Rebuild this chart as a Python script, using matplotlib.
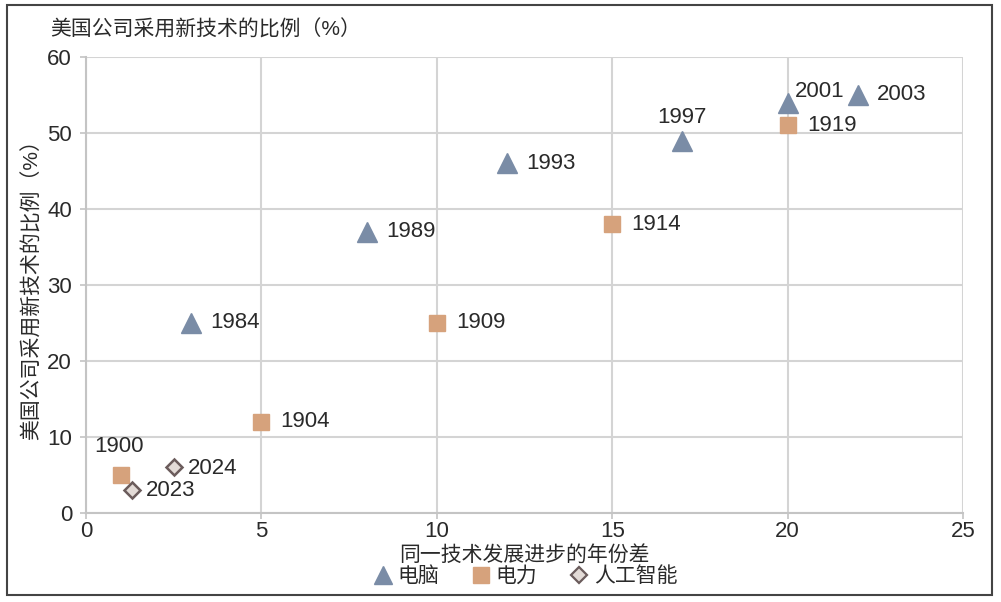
import matplotlib
matplotlib.use("Agg")
import matplotlib.pyplot as plt
from matplotlib.patches import Rectangle
from matplotlib.lines import Line2D

plt.rcParams['font.family'] = ['Liberation Sans', 'Noto Sans CJK SC', 'DejaVu Sans']

pc_x = [3, 8, 12, 17, 20, 22]
pc_y = [25, 37, 46, 49, 54, 55]
pc_lab = ["1984", "1989", "1993", "1997", "2001", "2003"]

el_x = [1, 5, 10, 15, 20]
el_y = [5, 12, 25, 38, 51]
el_lab = ["1900", "1904", "1909", "1914", "1919"]

ai_x = [1.3, 2.5]
ai_y = [3, 6]
ai_lab = ["2023", "2024"]

series_names = ["电脑", "电力", "人工智能"]

c_pc = "#7a8ca6"
c_el = "#d6a27c"
c_ai_face = "#e3dbd7"
c_ai_edge = "#6b5c5c"
grid_c = "#d4d4d4"
txt_c = "#2a2a2a"

fig = plt.figure(figsize=(10.01, 6.02), dpi=100)
ax = fig.add_axes([86/1001, 1-513/602, (963-86)/1001, (513-57)/602])

ax.set_xlim(0, 25)
ax.set_ylim(0, 60)
ax.set_xticks([0, 5, 10, 15, 20, 25])
ax.set_yticks([0, 10, 20, 30, 40, 50, 60])
ax.grid(True, color=grid_c, lw=1.5)
ax.set_axisbelow(True)
for s in ["top", "right"]:
    ax.spines[s].set_visible(False)
for s in ["left", "bottom"]:
    ax.spines[s].set_color("#c4c4c4")
    ax.spines[s].set_linewidth(1.5)
ax.tick_params(axis='both', colors="#c4c4c4", labelcolor=txt_c, labelsize=16, length=4, width=1.2)
ax.tick_params(axis='y', pad=6)
ax.tick_params(axis='x', pad=2)

ax.plot(pc_x, pc_y, ls='none', marker='^', ms=15, color=c_pc, mec=c_pc, zorder=3)
ax.plot(el_x, el_y, ls='none', marker='s', ms=12, color=c_el, mec=c_el, zorder=3)
ax.plot(ai_x, ai_y, ls='none', marker='D', ms=8.5, mfc=c_ai_face, mec=c_ai_edge, mew=1.8, zorder=3)

fs = 16
def lab(x, y, t, dx=0.55, dy=0.0, ha='left'):
    ax.text(x + dx, y + dy, t, fontsize=fs, color=txt_c, ha=ha, va='center', zorder=4)

for x, y, t in zip(pc_x, pc_y, pc_lab):
    if t == "1997":
        lab(x, y, t, dx=0, dy=3.0, ha='center')
    elif t == "2001":
        lab(x, y, t, dx=0.2, dy=1.5)
    else:
        lab(x, y, t)
for x, y, t in zip(el_x, el_y, el_lab):
    if t == "1900":
        lab(x, y, t, dx=-0.05, dy=3.8, ha='center')
    else:
        lab(x, y, t)
for x, y, t in zip(ai_x, ai_y, ai_lab):
    lab(x, y, t, dx=0.4, dy=-0.1)

fig.text(50/1001, 1-30/602, "美国公司采用新技术的比例（%）", fontsize=15, color=txt_c, ha='left', va='center')
ax.set_ylabel("美国公司采用新技术的比例（%）", fontsize=15, color=txt_c, labelpad=4)
ax.set_xlabel("同一技术发展进步的年份差", fontsize=15, color=txt_c, labelpad=2)

handles = [
    Line2D([], [], ls='none', marker='^', ms=13, color=c_pc),
    Line2D([], [], ls='none', marker='s', ms=11, color=c_el),
    Line2D([], [], ls='none', marker='D', ms=8, mfc=c_ai_face, mec=c_ai_edge, mew=1.6),
]
fig.legend(handles, series_names, loc='center', bbox_to_anchor=(524/1001, 1-576/602),
           ncol=3, frameon=False, fontsize=15, handletextpad=0.1, columnspacing=1.4,
           handlelength=1.2, labelcolor=txt_c)

fig.patches.append(Rectangle((7/1001, 1-595/602), (992-7)/1001, (595-5)/602,
                             transform=fig.transFigure, fill=False, ec="#444444", lw=1.5))

fig.savefig("out.png", dpi=100, facecolor='white')
